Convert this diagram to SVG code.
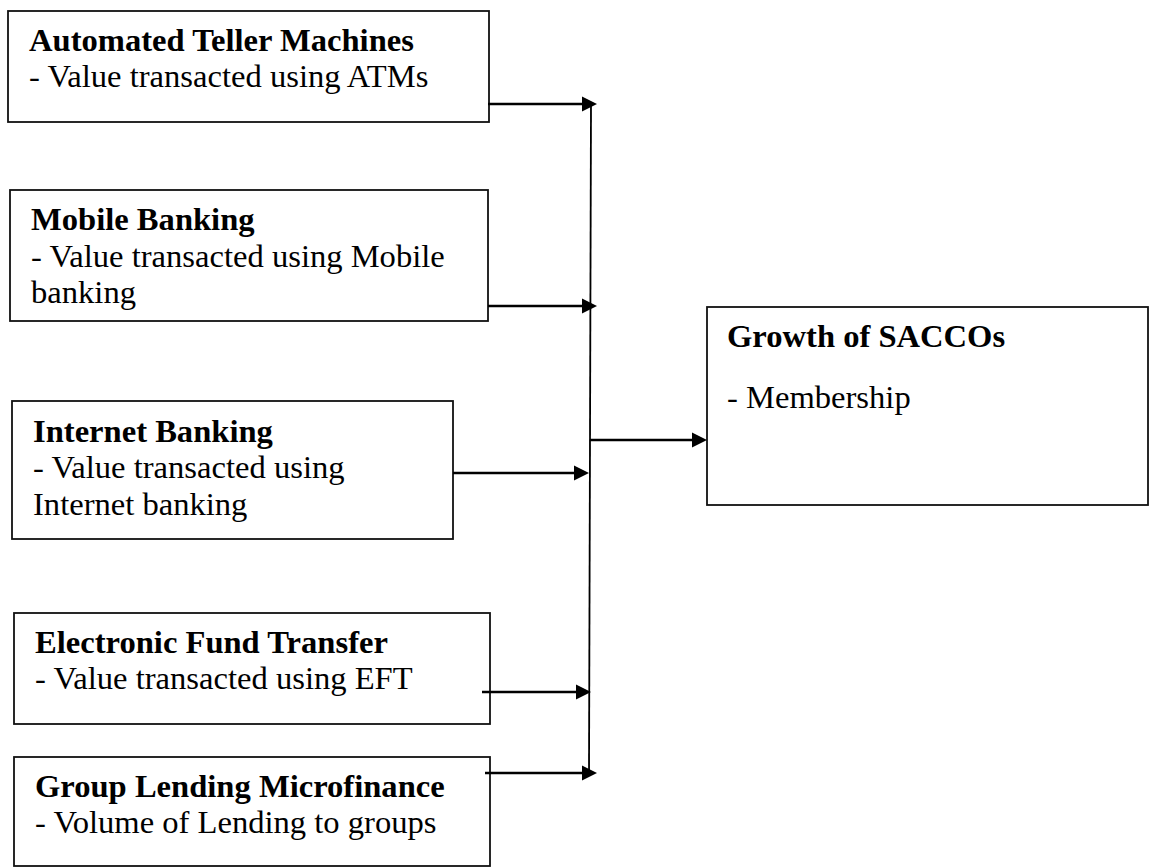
<svg xmlns="http://www.w3.org/2000/svg" width="1149" height="868" viewBox="0 0 1149 868">
<style>
.box{fill:#fff;stroke:#111;stroke-width:1.8}
.t{font-family:"Liberation Serif","Times New Roman",serif;font-size:32.6px;fill:#000}
.b{font-weight:bold}
.c{stroke:#000;stroke-width:2.4;fill:none}
.v{stroke:#000;stroke-width:1.8;fill:none}
.h{fill:#000;stroke:none}
</style>
<rect width="1149" height="868" fill="#fff"/>
<g id="atm">
<rect class="box" x="8" y="11" width="481" height="111"/>
<text class="t b" x="29" y="51">Automated Teller Machines</text>
<text class="t" x="29" y="87">- Value transacted using ATMs</text>
</g>
<g id="mobile">
<rect class="box" x="10" y="190" width="478" height="131"/>
<text class="t b" x="31" y="230">Mobile Banking</text>
<text class="t" x="31" y="267">- Value transacted using Mobile</text>
<text class="t" x="31" y="303">banking</text>
</g>
<g id="internet">
<rect class="box" x="12" y="401" width="441" height="138"/>
<text class="t b" x="33" y="442">Internet Banking</text>
<text class="t" x="33" y="478">- Value transacted using</text>
<text class="t" x="33" y="515">Internet banking</text>
</g>
<g id="eft">
<rect class="box" x="14" y="613" width="476" height="111"/>
<text class="t b" x="35" y="653">Electronic Fund Transfer</text>
<text class="t" x="35" y="689">- Value transacted using EFT</text>
</g>
<g id="group">
<rect class="box" x="14" y="757" width="476" height="109"/>
<text class="t b" x="35" y="797">Group Lending Microfinance</text>
<text class="t" x="35" y="833">- Volume of Lending to groups</text>
</g>
<g id="growth">
<rect class="box" x="707" y="307" width="441" height="198"/>
<text class="t b" x="727" y="347">Growth of SACCOs</text>
<text class="t" x="727" y="408">- Membership</text>
</g>
<g id="connectors">
<line class="v" x1="591" y1="104" x2="589" y2="773"/>
<line class="c" x1="488" y1="104" x2="584" y2="104"/>
<path class="h" d="M582,96.5 L597,104 L582,111.5 Z"/>
<line class="c" x1="488" y1="306" x2="584" y2="306"/>
<path class="h" d="M582,298.5 L597,306 L582,313.5 Z"/>
<line class="c" x1="453" y1="473" x2="576" y2="473"/>
<path class="h" d="M574,465.5 L589,473 L574,480.5 Z"/>
<line class="c" x1="482" y1="692" x2="578" y2="692"/>
<path class="h" d="M576,684.5 L591,692 L576,699.5 Z"/>
<line class="c" x1="485" y1="773" x2="584" y2="773"/>
<path class="h" d="M582,765.5 L597,773 L582,780.5 Z"/>
<line class="c" x1="590" y1="440" x2="694" y2="440"/>
<path class="h" d="M692,432.5 L707,440 L692,447.5 Z"/>
</g>
</svg>
